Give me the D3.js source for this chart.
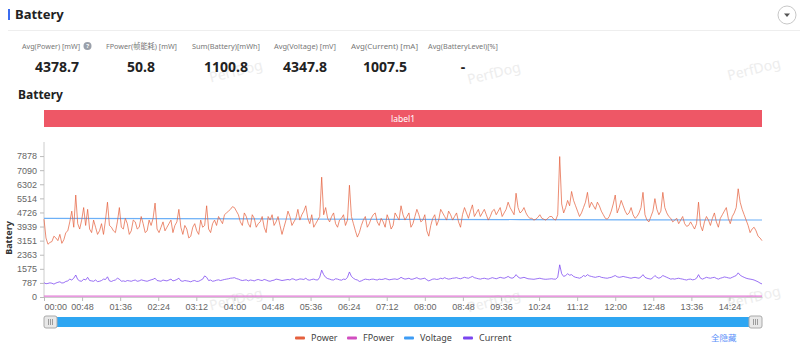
<!DOCTYPE html>
<html><head><meta charset="utf-8">
<script src="https://cdn.jsdelivr.net/npm/d3@7"></script>
<style>
html,body{margin:0;padding:0;background:#fff;}
svg{display:block;font-family:"Noto Sans","Noto Sans CJK SC",sans-serif;}
</style></head>
<body><svg id="c" width="800" height="346"></svg>
<script>
// ---- data ----
const duration = 905; // seconds
const power = [4350,3300,2950,3050,3100,3400,3300,3150,3500,3000,3200,3600,3700,4200,4800,3900,5700,4100,3800,4300,5000,
4000,4900,3800,3600,4300,3900,3500,3700,4100,3500,4300,5300,4000,3900,3700,3600,4200,5000,3900,3800,
4400,4100,3500,3700,4300,4200,3800,3900,4500,4100,3600,3700,4300,4000,4400,5250,3800,3600,3900,4200,
3700,3900,4100,4300,3600,4000,4200,4900,3900,3500,4000,3800,3300,3400,3900,4100,3700,3500,4300,3900,
4000,5100,3800,3600,4100,4300,4000,4500,4300,4100,4600,4700,4800,4900,5050,5000,4800,4600,4200,4000,
4700,4500,4100,3900,4600,4400,3900,4100,4200,4500,3900,3600,4500,4300,4600,4000,4200,4500,4000,3500,
3900,4300,4800,4500,4000,4200,4400,4900,4300,4600,4800,5100,4400,4100,4600,3900,4100,4300,4500,6700,
4600,5000,4400,4200,4500,4700,4100,3900,4300,4400,4600,4000,4300,6250,4500,4100,3700,3350,3600,4000,
4300,4500,3900,4100,4400,4600,4700,4200,4000,4400,4200,3900,4600,4300,3800,4000,4700,4500,4300,5100,
4600,4300,4500,4700,3900,4100,4500,4900,4600,4200,4300,4600,3700,3400,4000,4400,4600,4000,4300,4900,
4700,4500,4300,4800,4600,4300,4500,4700,4200,3900,4600,5000,4700,4400,4800,5150,4500,4700,4900,4500,
4700,4900,4600,4300,4500,4800,4900,4600,4800,5000,4500,4700,4900,5300,5000,4800,4600,5800,5000,4700,
4800,5000,4700,4500,4400,4400,4300,4350,4450,4600,4400,4350,4300,4400,4500,4500,4350,4300,4600,7850,
5200,4700,5000,5400,5100,5900,5400,5100,4800,4500,4700,5000,5300,5850,5000,5300,5100,4900,5300,5100,
4800,4600,4400,4350,4500,4800,5200,5700,4700,5000,5400,5100,4800,4600,4700,5000,4600,4400,4500,4700,
5000,5850,4600,4300,4200,4500,4800,5500,4900,4600,4800,5850,5000,4700,4500,4400,4200,4300,4400,4100,
4300,4500,4100,3950,4000,4200,4000,3800,4100,5300,4000,3700,4200,4500,4300,4000,4400,4700,4200,3900,
4400,4600,4800,5000,4400,4100,4500,4700,5000,6050,5300,4900,4600,4300,4000,3600,3800,3900,3700,3400,3300,3150];
const current = [800,740,760,790,770,720,780,820,850,780,800,870,900,1000,950,1050,1230,980,900,880,1000,
950,1100,920,900,880,950,860,880,920,1000,980,1130,900,870,920,950,1050,1000,880,900,
870,920,900,880,920,950,880,900,960,930,900,880,920,960,990,1050,920,900,880,950,
920,900,950,1000,900,930,980,1050,900,880,920,900,880,850,900,920,870,880,940,1000,
1180,1100,920,950,880,900,940,960,920,950,980,1000,1020,1050,1060,1080,1030,1000,950,920,
940,960,900,950,930,900,950,980,940,920,980,950,900,880,920,940,1000,980,950,920,
940,960,980,950,1020,1000,940,970,1010,1000,980,1050,960,940,980,1000,960,950,1100,1500,
1250,1100,1030,1000,960,950,1020,1000,960,940,1000,980,1100,1400,1150,1050,980,950,870,900,
960,1000,980,960,990,1000,970,950,1000,980,990,1030,1000,960,980,1000,1010,980,1020,1100,
1040,1000,1020,1050,990,1000,1040,1080,1020,1000,1030,1050,960,900,950,1000,1010,980,1000,1050,
1020,1080,1030,1000,1020,1050,1060,1080,1040,1020,1060,1100,1070,1050,1100,1150,1080,1050,1020,1000,
1030,1050,1020,1000,1040,1080,1050,1020,1060,1100,1070,1050,1090,1150,1080,1050,1100,1250,1120,1050,
1070,1100,1060,1020,1010,1000,990,1010,1030,1050,1020,1000,990,1000,1010,1020,1000,1000,1100,1800,
1300,1150,1200,1300,1220,1250,1150,1100,1080,1050,1100,1200,1150,1250,1180,1150,1120,1100,1130,1150,
1100,1080,1060,1050,1080,1100,1150,1200,1130,1100,1120,1150,1120,1100,1070,1050,1080,1100,1070,1050,
1120,1250,1100,1050,1020,1000,1080,1200,1100,1050,1100,1200,1150,1100,1050,1000,1020,1000,1030,1050,
1020,1000,970,950,990,1000,960,980,1050,1250,1050,1000,1050,1100,1070,1050,1080,1100,1040,1000,
1050,1080,1120,1100,1070,1050,1100,1150,1200,1350,1220,1150,1100,1050,1020,1000,980,950,900,850,780,730];
const sparseT = [0,150,300,450,600,750,905];
const voltage = [4395,4380,4360,4345,4330,4315,4305];
const fpower = [50,52,51,50,51,50,51];
const yTickValues = [0,787.8,1575.6,2363.4,3151.2,3939,4726.8,5514.6,6302.4,7090.2,7878];
const yTickLabels = ["0","787","1575","2363","3151","3939","4726","5514","6302","7090","7878"];
const yMax = 8665.8;
const xTickLabels = ["00:00","00:48","01:36","02:24","03:12","04:00","04:48","05:36","06:24","07:12","08:00","08:48","09:36","10:24","11:12","12:00","12:48","13:36","14:24"];
const xTickStep = 48;
const statLabels = ["Avg(Power) [mW]","FPower(帧能耗) [mW]","Sum(Battery)[mWh]","Avg(Voltage) [mV]","Avg(Current) [mA]","Avg(BatteryLevel)[%]"];
const statValues = ["4378.7","50.8","1100.8","4347.8","1007.5","-"];
const seriesNames = ["Power","FPower","Voltage","Current"];
const seriesColors = ["#e5603e","#d24ec0","#3d9cf5","#7a45f0"];

// ---- drawing ----
const svg = d3.select("#c");
const L=44, R=762, T=142, B=297;
const x = d3.scaleLinear().domain([0,duration]).range([L,R]);
const y = d3.scaleLinear().domain([0,yMax]).range([B,T]);

// watermarks
[[237,76],[495,78],[755,74],[237,304],[495,306],[755,302]].forEach(p=>{
  svg.append("text").attr("x",p[0]).attr("y",p[1]).attr("text-anchor","middle")
    .attr("transform",`rotate(-14,${p[0]},${p[1]})`).attr("font-size",14)
    .attr("fill","#ededed").text("PerfDog");
});

// header
svg.append("rect").attr("x",8).attr("y",9).attr("width",2).attr("height",11).attr("fill","#3b6cf0");
svg.append("text").attr("x",15).attr("y",19).attr("font-size",13).attr("font-weight","bold").attr("fill","#222").text("Battery");
svg.append("line").attr("x1",8).attr("x2",800).attr("y1",30.5).attr("y2",30.5).attr("stroke","#eeeeee");
svg.append("circle").attr("cx",787).attr("cy",15).attr("r",9).attr("fill","#fff").attr("stroke","#c8c8c8");
svg.append("path").attr("d","M784,13.5 L790,13.5 L787,17 Z").attr("fill","#555");

// stats
const labelStart=[22,106,192,274,351,428];
const labelWidth=[58,71,68,62,67,70];
const centers=[57,141,226,305,385,463];
statLabels.forEach((s,i)=>{
  svg.append("text").attr("x",labelStart[i]).attr("y",49)
    .attr("font-size",7.5).attr("fill","#777").attr("textLength",labelWidth[i]).attr("lengthAdjust","spacingAndGlyphs").text(s);
  svg.append("text").attr("x",centers[i]).attr("y",72).attr("text-anchor","middle")
    .attr("font-size",14).attr("font-weight","bold").attr("fill","#222").text(statValues[i]);
});
svg.append("circle").attr("cx",87.5).attr("cy",46).attr("r",4).attr("fill","#9aa0aa");
svg.append("text").attr("x",87.7).attr("y",48.3).attr("text-anchor","middle").attr("font-size",6).attr("font-weight","bold").attr("fill","#fff").text("?");

svg.append("text").attr("x",18).attr("y",99).attr("font-size",12).attr("font-weight","bold").attr("fill","#222").text("Battery");

// label bar
svg.append("rect").attr("x",L).attr("y",110).attr("width",R-L).attr("height",17).attr("fill","#ee5766");
svg.append("text").attr("x",(L+R)/2).attr("y",121.5).attr("text-anchor","middle").attr("font-size",8.5).attr("fill","#fff").text("label1");

// axes
const yAxis = d3.axisLeft(y).tickValues(yTickValues).tickFormat((d,i)=>yTickLabels[i]).tickSize(4).tickSizeOuter(0);
const gy = svg.append("g").attr("transform",`translate(${L},0)`).call(yAxis);
gy.select(".domain").attr("d",`M0,${T}V${B}`).attr("stroke","#ccc");
gy.selectAll(".tick line").attr("stroke","#bbb");
gy.selectAll(".tick text").attr("font-size",9).attr("fill","#666").attr("x",-7).attr("font-family",null);

const xTickVals = xTickLabels.map((d,i)=>i*xTickStep);
const xAxis = d3.axisBottom(x).tickValues(xTickVals).tickFormat((d,i)=>xTickLabels[i]).tickSize(4).tickSizeOuter(0);
const gx = svg.append("g").attr("transform",`translate(0,${B})`).call(xAxis);
gx.select(".domain").attr("stroke","#ccc");
gx.selectAll(".tick line").attr("stroke","#bbb");
gx.selectAll(".tick text").attr("font-size",9).attr("fill","#666").attr("y",7).attr("font-family",null);
gx.selectAll(".tick text").filter((d,i)=>i===0).attr("text-anchor","start");

svg.append("text").attr("transform","translate(12,238) rotate(-90)").attr("text-anchor","middle")
  .attr("font-size",9).attr("font-weight","bold").attr("fill","#333").text("Battery");

// lines
const line = d3.line().x(d=>x(d[0])).y(d=>y(d[1]));
const mk = arr => arr.map((v,i)=>[i*duration/(arr.length-1),v]);
const mkS = arr => arr.map((v,i)=>[sparseT[i],v]);
svg.append("path").datum(mkS(fpower)).attr("d",line).attr("fill","none").attr("stroke","#e27ad6").attr("stroke-width",1.2);
svg.append("path").datum(mkS(voltage)).attr("d",line).attr("fill","none").attr("stroke","#6db0f7").attr("stroke-width",1.2);
svg.append("path").datum(mk(current)).attr("d",line).attr("fill","none").attr("stroke",seriesColors[3]).attr("stroke-width",0.9).attr("stroke-opacity",0.85);
svg.append("path").datum(mk(power)).attr("d",line).attr("fill","none").attr("stroke",seriesColors[0]).attr("stroke-width",0.9).attr("stroke-opacity",0.8);

// slider
svg.append("rect").attr("x",L+6).attr("y",317).attr("width",R-L-12).attr("height",10).attr("fill","#2ea6f2");
[[L,317],[R-13,317]].forEach(p=>{
  svg.append("rect").attr("x",p[0]).attr("y",p[1]-1).attr("width",13).attr("height",12).attr("rx",2)
    .attr("fill","#e8e8e8").attr("stroke","#aaa");
  [4.5,6.5,8.5].forEach(dx=>svg.append("line").attr("x1",p[0]+dx).attr("x2",p[0]+dx).attr("y1",p[1]+2).attr("y2",p[1]+8).attr("stroke","#888").attr("stroke-width",0.8));
});

// legend
const legX=[295,347,404,463];
seriesNames.forEach((n,i)=>{
  svg.append("rect").attr("x",legX[i]).attr("y",336.5).attr("width",10).attr("height",3).attr("rx",1).attr("fill",seriesColors[i]);
  svg.append("text").attr("x",legX[i]+16).attr("y",341).attr("font-size",9).attr("fill","#444").text(n);
});
svg.append("text").attr("x",711).attr("y",341).attr("font-size",8.5).attr("fill","#5b8ff9").text("全隐藏");
</script></body></html>
